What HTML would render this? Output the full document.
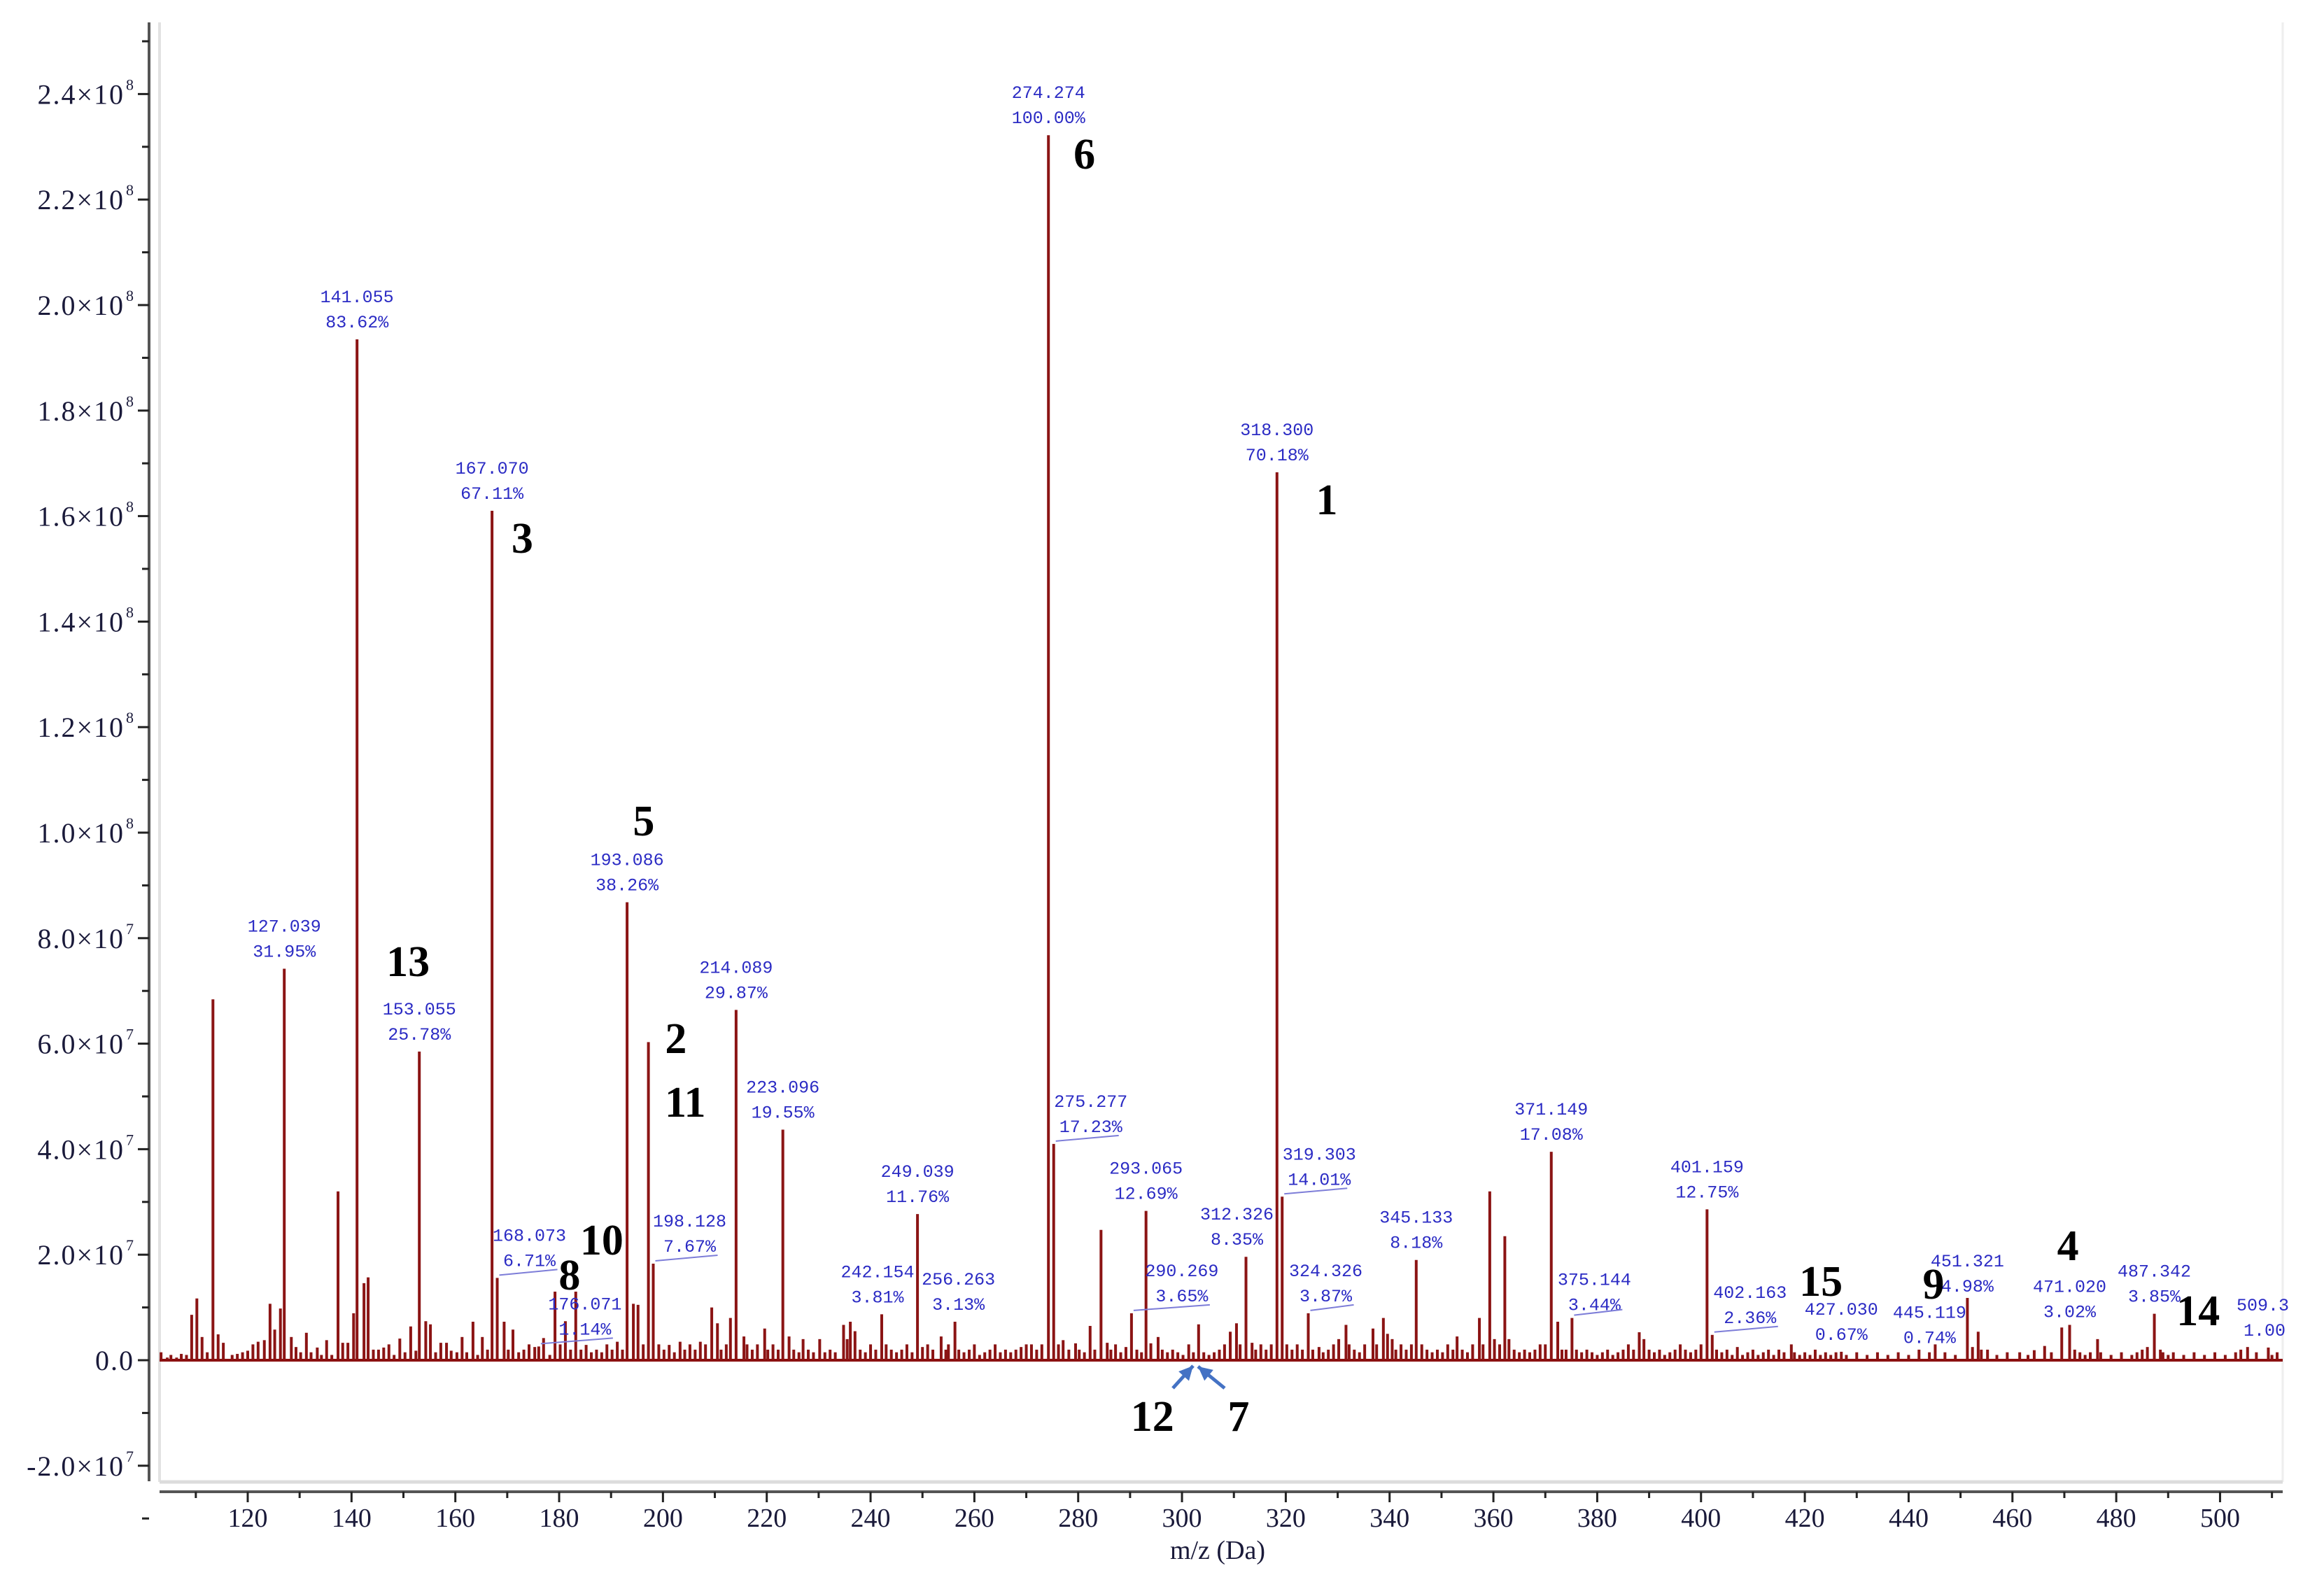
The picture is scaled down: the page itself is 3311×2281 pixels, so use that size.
<!DOCTYPE html>
<html><head><meta charset="utf-8"><title>Mass spectrum</title>
<style>
html,body{margin:0;padding:0;background:#fff;}
svg{display:block;}
.tick{font-family:"Liberation Serif",serif;font-size:38px;fill:#1a1a3a;}
.ytick{font-family:"Liberation Serif",serif;font-size:40px;fill:#1a1a3a;letter-spacing:2px;}
.lab{font-family:"Liberation Mono",monospace;font-size:25px;fill:#2b2bc4;}
.num{font-family:"Liberation Serif",serif;font-size:62px;font-weight:bold;fill:#000;}
</style></head>
<body>
<svg id="chart" xmlns="http://www.w3.org/2000/svg" width="3311" height="2281" viewBox="0 0 3311 2281">
  <rect x="0" y="0" width="3311" height="2281" fill="#fff"/>
  <g id="frame">
    <line x1="228" y1="32" x2="228" y2="2118" stroke="#e2e2e2" stroke-width="4"/>
    <line x1="3262" y1="32" x2="3262" y2="2118" stroke="#eeeeee" stroke-width="3"/>
    <line x1="228" y1="2118" x2="3262" y2="2118" stroke="#dcdcdc" stroke-width="5"/>
  </g>
  <g id="yaxis"></g>
  <g id="xaxis"></g>
  <g id="peaks"></g>
  <g id="labels"></g>
  <g id="nums"></g>
  <text x="1740" y="2228" text-anchor="middle" class="tick">m/z (Da)</text>
</svg>
<script>
// ---- data (intensity in units of 1e7) ----
const peakMz = [103.3,104.5,105.2,106.3,107.2,108.2,109.2,110.2,111.2,112.2,113.3,114.3,115.3,117,118,119,120,121,122,123.2,124.3,125.2,126.3,127.04,128.4,129.3,130.2,131.3,132.2,133.4,134.2,135.2,136.2,137.4,138.3,139.3,140.4,141.06,142.4,143.2,144.2,145.2,146.2,147.2,148.2,149.3,150.3,151.4,152.4,153.06,154.3,155.2,156.2,157.2,158.3,159.2,160.3,161.3,162.2,163.4,164.3,165.2,166.2,167.07,168.07,169.4,170.2,171.1,172.2,173.2,174.2,175.3,176.07,177.0,178.2,179.2,180.2,181.2,182.2,183.2,184.2,185.2,186.2,187.2,188.2,189.2,190.2,191.2,192.2,193.09,194.3,195.2,196.2,197.2,198.13,199.2,200.2,201.2,202.2,203.3,204.2,205.2,206.2,207.2,208.2,209.4,210.5,211.2,212.2,213.0,214.09,215.6,216.2,217.2,218.2,219.6,220.2,221.2,222.2,223.1,224.3,225.2,226.2,227,228,229,230.2,231.2,232.2,233.2,234.8,235.5,236.1,237,238,239,240,241,242.15,243,244,245,246,247,248,249.04,250,251,252,253.6,254.5,255,256.26,257,258,259,260,261,262,263,264,265,266,267,268,269,270,271,272,273,274.27,275.28,276.2,277.1,278.2,279.5,280.2,281.2,282.3,283.2,284.4,285.6,286.3,287.2,288.2,289.2,290.27,291.3,292.2,293.07,294.0,295.4,296.2,297.2,298.2,299.2,300.2,301.3,302.2,303.2,304.2,305.2,306.2,307.2,308.2,309.3,310.5,311.2,312.33,313.5,314.2,315.2,316.2,317.2,318.3,319.3,320.2,321.2,322.2,323.2,324.33,325.2,326.4,327.2,328.2,329.2,330.2,331.6,332.2,333.2,334.2,335.2,336.8,337.5,338.8,339.6,340.5,341.2,342.2,343.2,344.2,345.13,346.2,347.2,348.2,349.2,350.2,351.2,352.2,353,354,355,356,357.3,358,359.3,360.2,361.2,362.2,363,364,365,366,367,368,369,370,371.15,372.4,373.2,374.0,375.14,376,377,378,379,380,381,382,383,384,385,386,387,388.1,389,390,391,392,393,394,395,396,397,398,399,400,401.16,402.16,403,404,405,406,407,408,409,410,411,412,413,414,415,416,417.4,418,419,420,421,422,423,424,425,426,427.03,428,430,432,434,436,438,440,442,444,445.12,447,449,451.32,452.3,453.4,454,455.2,457,459,461.4,463,464.2,466.2,467.5,469.5,471.02,472,473,474,475,476.4,477,479,481,483,484,485,486,487.34,488.5,489,490,491,493,495,497,499,501,503,504,505.3,507,509.3,510,511];
const peakIntensity = [0.15,0.05,0.1,0.05,0.12,0.1,0.86,1.17,0.44,0.15,6.84,0.49,0.33,0.1,0.12,0.15,0.18,0.3,0.35,0.38,1.07,0.58,0.98,7.42,0.44,0.25,0.15,0.52,0.15,0.24,0.1,0.38,0.1,3.2,0.33,0.33,0.89,19.35,1.46,1.57,0.2,0.2,0.24,0.3,0.1,0.41,0.15,0.64,0.18,5.85,0.74,0.68,0.15,0.33,0.33,0.18,0.15,0.44,0.15,0.73,0.1,0.44,0.2,16.1,1.56,0.73,0.2,0.58,0.15,0.2,0.3,0.25,0.26,0.42,0.1,1.3,0.3,0.74,0.2,1.3,0.2,0.29,0.15,0.2,0.15,0.3,0.2,0.35,0.2,8.68,1.07,1.05,0.3,6.03,1.83,0.3,0.2,0.29,0.15,0.35,0.2,0.3,0.2,0.35,0.3,1.0,0.7,0.2,0.3,0.8,6.64,0.45,0.3,0.2,0.3,0.6,0.2,0.3,0.2,4.37,0.45,0.2,0.15,0.4,0.2,0.15,0.4,0.15,0.2,0.15,0.67,0.4,0.73,0.55,0.2,0.15,0.3,0.2,0.87,0.3,0.2,0.15,0.2,0.3,0.15,2.77,0.25,0.3,0.2,0.45,0.2,0.3,0.73,0.2,0.15,0.2,0.3,0.1,0.15,0.2,0.3,0.15,0.2,0.15,0.2,0.25,0.3,0.3,0.2,0.3,23.22,4.1,0.3,0.38,0.2,0.32,0.2,0.15,0.65,0.2,2.47,0.33,0.2,0.3,0.15,0.25,0.89,0.2,0.15,2.83,0.32,0.44,0.2,0.15,0.2,0.15,0.1,0.3,0.15,0.68,0.15,0.1,0.15,0.2,0.3,0.54,0.7,0.3,1.96,0.33,0.2,0.3,0.2,0.3,16.83,3.1,0.3,0.2,0.3,0.2,0.89,0.2,0.25,0.15,0.2,0.3,0.4,0.67,0.3,0.2,0.15,0.3,0.6,0.3,0.8,0.5,0.4,0.2,0.3,0.2,0.3,1.9,0.3,0.2,0.15,0.2,0.15,0.3,0.2,0.45,0.2,0.15,0.3,0.8,0.3,3.2,0.4,0.3,2.35,0.4,0.2,0.15,0.2,0.15,0.2,0.3,0.3,3.95,0.73,0.2,0.2,0.8,0.2,0.15,0.2,0.15,0.1,0.15,0.2,0.1,0.15,0.2,0.3,0.2,0.53,0.4,0.2,0.15,0.2,0.1,0.15,0.2,0.3,0.2,0.15,0.2,0.3,2.86,0.48,0.2,0.15,0.2,0.1,0.25,0.1,0.15,0.2,0.1,0.15,0.2,0.1,0.2,0.15,0.3,0.15,0.1,0.15,0.1,0.2,0.1,0.15,0.1,0.15,0.16,0.1,0.15,0.1,0.15,0.1,0.15,0.1,0.2,0.15,0.3,0.15,0.1,1.18,0.25,0.54,0.2,0.2,0.1,0.15,0.15,0.1,0.19,0.27,0.15,0.62,0.67,0.2,0.15,0.1,0.15,0.4,0.15,0.1,0.15,0.1,0.15,0.2,0.25,0.88,0.2,0.15,0.1,0.15,0.1,0.15,0.1,0.15,0.1,0.15,0.2,0.25,0.15,0.24,0.1,0.15];

// annotated peaks
const labelMz   = [127.04,141.06,153.06,167.07,168.07,176.07,193.09,198.13,214.09,223.1,242.15,249.04,256.26,274.27,275.28,290.27,293.07,312.33,318.3,319.3,324.33,345.13,371.15,375.14,401.16,402.16,427.03,445.12,451.32,471.02,487.34,509.3];
const labelMass = ["127.039","141.055","153.055","167.070","168.073","176.071","193.086","198.128","214.089","223.096","242.154","249.039","256.263","274.274","275.277","290.269","293.065","312.326","318.300","319.303","324.326","345.133","371.149","375.144","401.159","402.163","427.030","445.119","451.321","471.020","487.342","509.3"];
const labelPct  = ["31.95%","83.62%","25.78%","67.11%","6.71%","1.14%","38.26%","7.67%","29.87%","19.55%","3.81%","11.76%","3.13%","100.00%","17.23%","3.65%","12.69%","8.35%","70.18%","14.01%","3.87%","8.18%","17.08%","3.44%","12.75%","2.36%","0.67%","0.74%","4.98%","3.02%","3.85%","1.00"];

// axis ticks
const yTickValues = [-2,0,2,4,6,8,10,12,14,16,18,20,22,24];
const yTickMant   = ["-2.0","0.0","2.0","4.0","6.0","8.0","1.0","1.2","1.4","1.6","1.8","2.0","2.2","2.4"];
const yTickExp    = ["7","","7","7","7","7","8","8","8","8","8","8","8","8"];
const xTickLabels = [120,140,160,180,200,220,240,260,280,300,320,340,360,380,400,420,440,460,480,500];

// compound numbers: label, m/z anchor
const cmpText = ["6","1","3","5","13","2","11","10","8","15","9","4","14","12","7"];
const cmpMz   = [281.2,327.9,172.9,196.3,150.9,202.5,204.3,188.2,182.0,423.1,444.8,470.7,495.8,294.3,310.9];
</script>
<script>
// ---- layout ----
const NS = "http://www.w3.org/2000/svg";
const X0 = 354, PXDA = 7.417, Y0 = 1944, PX1E7 = 75.4;
function xs(m){ return X0 + (m - 120) * PXDA; }
function ys(v){ return Y0 - v * PX1E7; }
function mk(tag, attrs, parent){
  const e = document.createElementNS(NS, tag);
  for (const k in attrs) e.setAttribute(k, attrs[k]);
  parent.appendChild(e); return e;
}
const labelShift = {4:[46,0],5:[66,0],7:[52,0],10:[-6,0],12:[5,0],14:[53,0],15:[72,0],17:[-13,0],19:[53,0],20:[25,0],23:[32,6],25:[54,0],27:[-8,15],28:[0,8],29:[0,6]};
const leaderIdx = [4,5,7,14,15,19,20,23,25];
const cmpBase = [241,735,790,1194,1395,1505,1596,1793,1843,1852,1856,1801,1894,2045,2045];

// y axis
const yaxis = document.getElementById('yaxis');
const yl = mk('line',{x1:213,y1:32,x2:213,y2:2117,stroke:'#555',"stroke-width":4},yaxis);


for (let v = -3; v <= 25; v++) {
  const y = ys(v);
  const major = (v % 2 === 0);
  const t = mk('line',{x1: major?197:203, y1:y, x2:213, y2:y, stroke:'#222', "stroke-width":3}, yaxis);
  
  
}
yTickValues.forEach((v,i)=>{
  const tx = mk('text',{x: yTickExp[i] ? 178 : 192, y: ys(v)+14, "text-anchor":"end", class:"ytick"}, yaxis);
  
  
  tx.textContent = yTickExp[i] ? yTickMant[i] + "×10" : yTickMant[i];
  if (yTickExp[i]) {
    const s = mk('text',{x:180, y: ys(v)-6, "text-anchor":"start", class:"tick", style:"font-size:22px"}, yaxis);
    
    
    s.textContent = yTickExp[i];
  }
});

// x axis
const xaxis = document.getElementById('xaxis');
const xl = mk('line',{x1:228,y1:2132,x2:3262,y2:2132,stroke:'#555',"stroke-width":4},xaxis);


for (let m = 110; m <= 510; m += 10) {
  const major = (m % 20 === 0);
  const t = mk('line',{x1:xs(m),y1:2132,x2:xs(m),y2: major?2147:2141,stroke:'#222',"stroke-width":3},xaxis);
  
  
}
xTickLabels.forEach(m=>{
  const tx = mk('text',{x:xs(m), y:2182, "text-anchor":"middle", class:"tick"}, xaxis);
  
  
  tx.textContent = String(m);
});

// peaks
const peaks = document.getElementById('peaks');
const base = mk('line',{x1:228,y1:Y0,x2:3262,y2:Y0,stroke:'#8b1010',"stroke-width":4},peaks);


peakMz.forEach((m,i)=>{
  const x = xs(m);
  const p = mk('line',{x1:x,y1:Y0,x2:x,y2:ys(peakIntensity[i]),stroke:'#8b1414',"stroke-width":4},peaks);
  
  
});

// peak labels
const labels = document.getElementById('labels');
function intensityAt(m){
  let best = 0, bd = 1e9;
  peakMz.forEach((pm,i)=>{ const d = Math.abs(pm-m); if (d < bd) { bd = d; best = peakIntensity[i]; } });
  return best;
}
labelMz.forEach((m,i)=>{
  const px = xs(m), top = ys(intensityAt(m));
  const sh = labelShift[i] || [0,0];
  const cx = px + sh[0], by = top - 17 + sh[1];
  const last = (i === labelMz.length - 1);
  const anchor = last ? "start" : "middle";
  const lx = last ? 3196 : cx;
  const a = mk('text',{x:lx, y:by-36, "text-anchor":anchor, class:"lab"}, labels);
  
  
  a.textContent = labelMass[i];
  const b = mk('text',{x: last ? 3206 : lx, y:by, "text-anchor":anchor, class:"lab"}, labels);
  
  
  b.textContent = labelPct[i];
  if (leaderIdx.indexOf(i) >= 0) {
    const ld = mk('line',{x1:px+3, y1:top-4, x2:cx+40, y2:top-12, stroke:'#7d7dd8', "stroke-width":2}, labels);
    
    
  }
});

// compound numbers
const nums = document.getElementById('nums');
cmpText.forEach((t,i)=>{
  const n = mk('text',{x:xs(cmpMz[i]), y:cmpBase[i], "text-anchor":"middle", class:"num"}, nums);
  
  
  n.textContent = t;
});
function arrow(x1,y1,x2,y2,name){
  const g = mk('g',{},nums);
  
  
  mk('line',{x1:x1,y1:y1,x2:x2,y2:y2,stroke:'#4472c4',"stroke-width":5},g);
  const ang = Math.atan2(y2-y1,x2-x1), L=20, W=10;
  const bx = x2 - L*Math.cos(ang), by = y2 - L*Math.sin(ang);
  const pts = [x2,y2, bx + W*Math.sin(ang), by - W*Math.cos(ang), bx - W*Math.sin(ang), by + W*Math.cos(ang)];
  mk('polygon',{points:pts.join(','),fill:'#4472c4'},g);
}
arrow(1676,1984,1705,1952,'arrow-12');
arrow(1750,1984,1712,1953,'arrow-7');
</script>
</body></html>
